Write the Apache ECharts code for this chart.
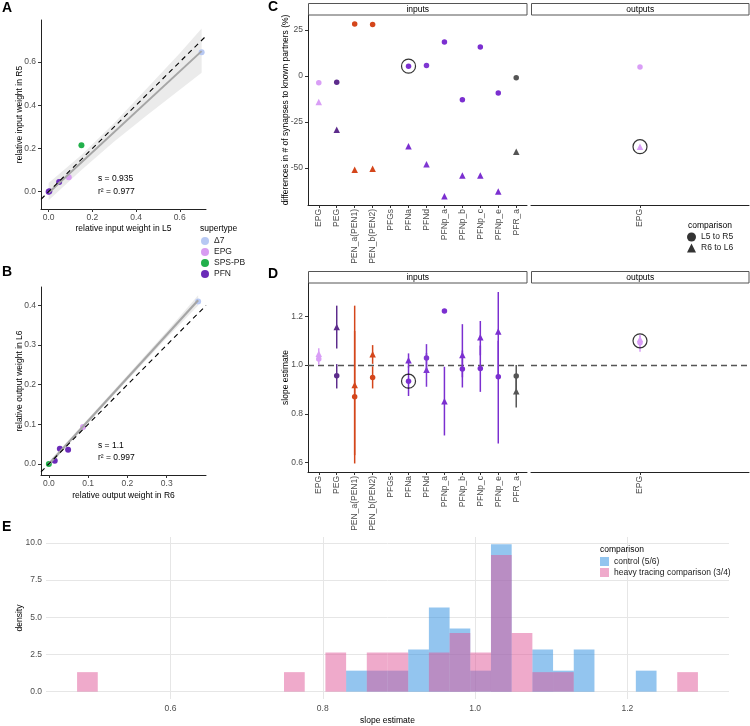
<!DOCTYPE html>
<html><head><meta charset="utf-8">
<script src="https://cdn.jsdelivr.net/npm/echarts@6/dist/echarts.min.js"></script>
<style>html,body{margin:0;padding:0;background:#fff}#c{width:750px;height:726px}</style>
</head><body><div id="c"></div>
<script>
// ---------- Panel A data ----------
const aDelta7 = [[0.70, 0.645]];
const aEPG = [[0.092, 0.067]];
const aSPS = [[0.15, 0.215]];
const aPFN = [[0.048, 0.045], [0.003, 0.002], [0.0, 0.0]];
const aFit = [[0.0, -0.005], [0.70, 0.650]];
const aBandX = [0, 0.15, 0.3, 0.45, 0.6, 0.7];
const aBandLo = [-0.04, 0.100, 0.232, 0.354, 0.472, 0.55];
const aBandHi = [0.040, 0.170, 0.318, 0.478, 0.640, 0.755];
const aIdentity = [[-0.035, -0.035], [0.72, 0.72]];
const aTicks = [0, 0.2, 0.4, 0.6];

// ---------- Panel B data ----------
const bDelta7 = [[0.38, 0.41]];
const bEPG = [[0.087, 0.093]];
const bSPS = [[0.0, 0.0]];
const bPFN = [[0.028, 0.038], [0.049, 0.036], [0.015, 0.008]];
const bFit = [[0.0, 0.0], [0.38, 0.413]];
const bBandX = [0, 0.1, 0.2, 0.3, 0.38];
const bBandLo = [-0.006, 0.103, 0.211, 0.318, 0.400];
const bBandHi = [0.006, 0.114, 0.224, 0.334, 0.426];
const bIdentity = [[-0.02, -0.02], [0.40, 0.40]];
const bTicksX = [0, 0.1, 0.2, 0.3];
const bTicksY = [0, 0.1, 0.2, 0.3, 0.4];

// ---------- Panels C / D data ----------
const inputCats = ['EPG','PEG','PEN_a(PEN1)','PEN_b(PEN2)','PFGs','PFNa','PFNd','PFNp_a','PFNp_b','PFNp_c','PFNp_e','PFR_a'];
const outputCats = ['EPG'];
const cInL5R5 = [-3.6, -3.3, 28.3, 28.1, null, 5.4, 5.7, 18.5, -12.9, 15.8, -9.2, -0.9];
const cInR6L6 = [-14.1, -29.2, -50.9, -50.4, null, -38.2, -48.0, -65.4, -54.0, -54.0, -62.7, -41.1];
const cOutL5R5 = [4.9];
const cOutR6L6 = [-38.4];
const cTicks = [-50, -25, 0, 25];

const dInL5R5 = [1.025, 0.956, 0.870, 0.949, null, 0.934, 1.029, 1.222, 0.984, 0.986, 0.952, 0.955];
const dInL5R5Lo = [1.000, 0.904, 0.596, 0.904, null, 0.873, 0.975, null, 0.908, 0.890, 0.678, 0.900];
const dInL5R5Hi = [1.050, 1.004, 1.140, 0.995, null, 0.995, 1.086, null, 1.060, 1.080, 1.100, 1.000];
const dInR6L6 = [1.047, 1.156, 0.918, 1.044, null, 1.020, 0.981, 0.851, 1.041, 1.114, 1.138, 0.893];
const dInR6L6Lo = [1.020, 1.068, 0.630, 1.005, null, 0.990, 0.911, 0.711, 0.950, 1.040, 0.950, 0.826];
const dInR6L6Hi = [1.069, 1.244, 1.244, 1.082, null, 1.048, 1.050, 0.993, 1.168, 1.181, 1.300, 0.960];
const dOutL5R5 = [1.092], dOutL5R5Lo = [1.055], dOutL5R5Hi = [1.120];
const dOutR6L6 = [1.107], dOutR6L6Lo = [1.070], dOutR6L6Hi = [1.123];
const dTicks = [0.6, 0.8, 1.0, 1.2];

// ---------- Panel E data ----------
const histStart = 0.4773, histWidth = 0.02718;
const ctrlBins = [13,14,15,16,17,18,19,20,22,23,24,27];
const ctrlDensity = [1.41,1.41,1.41,2.83,5.66,4.24,1.41,9.90,2.83,1.41,2.83,1.41];
const heavyBins = [0,10,12,14,15,17,18,19,20,21,22,23,29];
const heavyDensity = [1.31,1.31,2.63,2.63,2.63,2.63,3.94,2.63,9.19,3.94,1.31,1.31,1.31];
const eTicksX = [0.6, 0.8, 1.0, 1.2];
const eTicksY = [0, 2.5, 5, 7.5, 10];

// ---------- styles ----------
const font = "'Liberation Sans', Arial, Helvetica, sans-serif";
const superColors = {'Δ7':'#b7c8f3', 'EPG':'#d89cf1', 'SPS-PB':'#22b04b', 'PFN':'#6b2bb8'};
const catColors = {EPG:'#d99ef6', PEG:'#5d2c8c', 'PEN_a(PEN1)':'#d4461b', 'PEN_b(PEN2)':'#d4461b', PFGs:'#7b2fd0',
  PFNa:'#7b2fd0', PFNd:'#7f37d2', PFNp_a:'#7b2fd0', PFNp_b:'#7b2fd0', PFNp_c:'#7b2fd0', PFNp_e:'#7b2fd0', PFR_a:'#555555'};
const ctrlColor = 'rgba(39,139,223,0.5)';
const heavyColor = 'rgba(223,85,151,0.5)';
const FS = 8.5;

function valAxis(grid, min, max, ticks, fmt, o) {
  o = o || {};
  return {
    type: 'value', gridIndex: grid, min, max,
    name: o.name || '', nameLocation: 'middle', nameGap: o.nameGap || 15, nameMoveOverlap: false,
    nameTextStyle: {color: '#000', fontSize: FS, fontFamily: font},
    axisLine: {show: o.line !== false, onZero: false, lineStyle: {color: '#222', width: 1}},
    axisTick: {show: o.tick !== false, length: 3, customValues: ticks, lineStyle: {color: '#333'}},
    axisLabel: {show: o.label !== false, customValues: ticks, formatter: fmt, color: '#4d4d4d', fontSize: FS,
      fontFamily: font, margin: o.margin || 5, rotate: o.rotate || 0, hideOverlap: false},
    splitLine: {show: !!o.split, lineStyle: {color: '#e6e6e6', width: 1}}
  };
}
const f1 = v => v.toFixed(1);
const f0 = v => String(Math.round(v));
const inIdx = inputCats.map((_, i) => i);
const catFmt = cats => v => cats[Math.round(v)];

function bandSeries(ax, bx, lo, hi) {
  return {type: 'custom', xAxisIndex: ax, yAxisIndex: ax, clip: true, z: 1, silent: true,
    data: bx.map((x, i) => [x, lo[i], hi[i]]), encode: {x: 0, y: [1, 2]},
    renderItem: (p, api) => {
      if (p.dataIndex !== 0) return null;
      const up = bx.map((x, i) => api.coord([x, hi[i]]));
      const dn = bx.map((x, i) => api.coord([x, lo[i]])).reverse();
      return {type: 'polygon', shape: {points: up.concat(dn)}, style: {fill: 'rgba(153,153,153,0.2)'}};
    }};
}
function lineSeries(ax, data, color, width, dashed, z) {
  return {type: 'line', xAxisIndex: ax, yAxisIndex: ax, data, symbol: 'none', z, silent: true, clip: true,
    lineStyle: {color, width, type: dashed ? [5, 4] : 'solid'}};
}
function superSeries(ax, name, data) {
  return {type: 'scatter', name, xAxisIndex: ax, yAxisIndex: ax, data, symbol: 'circle', symbolSize: 6, z: 2,
    itemStyle: {color: superColors[name], opacity: 1}};
}
function catPoints(ax, cats, vals, symbol, size, extra) {
  const data = cats.map((c, i) => vals[i] == null ? null : {value: [i, vals[i]], itemStyle: {color: catColors[c]}}).filter(Boolean);
  return Object.assign({type: 'scatter', xAxisIndex: ax, yAxisIndex: ax, data, symbol, symbolSize: size, z: 4,
    itemStyle: {opacity: 1}}, extra || {});
}
function errSeries(ax, cats, lo, hi) {
  const data = cats.map((c, i) => [i, lo[i], hi[i]]).filter(d => d[1] != null);
  return {type: 'custom', xAxisIndex: ax, yAxisIndex: ax, data, encode: {x: 0, y: [1, 2]}, z: 3, silent: true,
    renderItem: (p, api) => {
      const i = api.value(0);
      const a = api.coord([i, api.value(1)]), b = api.coord([i, api.value(2)]);
      return {type: 'line', shape: {x1: a[0], y1: a[1], x2: b[0], y2: b[1]},
        style: {stroke: catColors[cats[i]], lineWidth: 1.5}};
    }};
}
function highlight(ax, x, y) {
  return {type: 'scatter', xAxisIndex: ax, yAxisIndex: ax, data: [[x, y]], symbol: 'circle', symbolSize: 14, z: 6,
    silent: true, itemStyle: {color: 'rgba(0,0,0,0)', borderColor: '#000', borderWidth: 1.2}};
}
function histSeries(name, bins, dens, color) {
  return {type: 'custom', name, xAxisIndex: 6, yAxisIndex: 6, itemStyle: {color},
    data: bins.map((b, i) => [histStart + b * histWidth, histStart + (b + 1) * histWidth, dens[i]]),
    encode: {x: [0, 1], y: 2},
    renderItem: (p, api) => {
      const p0 = api.coord([api.value(0), 0]), p1 = api.coord([api.value(1), api.value(2)]);
      return {type: 'rect', shape: {x: p0[0], y: p1[1], width: p1[0] - p0[0], height: p0[1] - p1[1]}, style: {fill: color}};
    }};
}

const grids = [
  {left: 41, top: 20, width: 165, height: 189},   // A
  {left: 41, top: 287, width: 165, height: 188},  // B
  {left: 308, top: 15, width: 219, height: 190},  // C inputs
  {left: 531, top: 15, width: 218, height: 190},  // C outputs
  {left: 308, top: 283, width: 219, height: 189}, // D inputs
  {left: 531, top: 283, width: 218, height: 189}, // D outputs
  {left: 46, top: 537, width: 683, height: 164}   // E
];

const xAxes = [
  valAxis(0, -0.035, 0.72, aTicks, f1, {name: 'relative input weight in L5', nameGap: 15, margin: 4}),
  valAxis(1, -0.02, 0.40, bTicksX, f1, {name: 'relative output weight in R6', nameGap: 16, margin: 4}),
  valAxis(2, -0.6, 11.6, inIdx, catFmt(inputCats), {rotate: 90, margin: 4}),
  valAxis(3, -0.6, 0.6, [0], catFmt(outputCats), {rotate: 90, margin: 4}),
  valAxis(4, -0.6, 11.6, inIdx, catFmt(inputCats), {rotate: 90, margin: 4}),
  valAxis(5, -0.6, 0.6, [0], catFmt(outputCats), {rotate: 90, margin: 4}),
  valAxis(6, 0.4365, 1.3335, eTicksX, f1, {name: 'slope estimate', nameGap: 17, line: false, tick: false, split: true, margin: 5})
];
const yAxes = [
  valAxis(0, -0.08, 0.794, aTicks, f1, {name: 'relative input weight in R5', nameGap: 17}),
  valAxis(1, -0.028, 0.4466, bTicksY, f1, {name: 'relative output weight in L6', nameGap: 17}),
  valAxis(2, -70.1, 33.2, cTicks, f0, {name: 'differences in # of synapses to known partners (%)', nameGap: 18}),
  valAxis(3, -70.1, 33.2, cTicks, f0, {line: false, tick: false, label: false}),
  valAxis(4, 0.561, 1.337, dTicks, f1, {name: 'slope estimate', nameGap: 18}),
  valAxis(5, 0.561, 1.337, dTicks, f1, {line: false, tick: false, label: false}),
  valAxis(6, -0.495, 10.395, eTicksY, f1, {name: 'density', nameGap: 22, line: false, tick: false, split: true, margin: 4})
];

const dashLine = {symbol: 'none', silent: true, z: 1, label: {show: false},
  lineStyle: {color: '#555', width: 1.4, type: [6, 4]}, data: [{yAxis: 1}]};

const series = [
  // A
  bandSeries(0, aBandX, aBandLo, aBandHi),
  superSeries(0, 'Δ7', aDelta7), superSeries(0, 'EPG', aEPG), superSeries(0, 'SPS-PB', aSPS), superSeries(0, 'PFN', aPFN),
  lineSeries(0, aFit, '#a6a6a6', 2, false, 3),
  lineSeries(0, aIdentity, '#000', 1.1, true, 4),
  // B
  bandSeries(1, bBandX, bBandLo, bBandHi),
  superSeries(1, 'Δ7', bDelta7), superSeries(1, 'EPG', bEPG), superSeries(1, 'SPS-PB', bSPS), superSeries(1, 'PFN', bPFN),
  lineSeries(1, bFit, '#a6a6a6', 2.2, false, 3),
  lineSeries(1, bIdentity, '#000', 1.1, true, 4),
  // legend dummies for comparison
  {type: 'scatter', name: 'L5 to R5', xAxisIndex: 3, yAxisIndex: 3, data: [], symbol: 'circle', itemStyle: {color: '#000'}},
  {type: 'scatter', name: 'R6 to L6', xAxisIndex: 3, yAxisIndex: 3, data: [], symbol: 'triangle', itemStyle: {color: '#000'}},
  // C
  catPoints(2, inputCats, cInL5R5, 'circle', 5.5),
  catPoints(2, inputCats, cInR6L6, 'triangle', 6.5),
  catPoints(3, outputCats, cOutL5R5, 'circle', 5.5),
  catPoints(3, outputCats, cOutR6L6, 'triangle', 6.5),
  highlight(2, 5, cInL5R5[5]),
  highlight(3, 0, cOutR6L6[0]),
  // D
  errSeries(4, inputCats, dInL5R5Lo, dInL5R5Hi),
  errSeries(4, inputCats, dInR6L6Lo, dInR6L6Hi),
  errSeries(5, outputCats, dOutL5R5Lo, dOutL5R5Hi),
  errSeries(5, outputCats, dOutR6L6Lo, dOutR6L6Hi),
  catPoints(4, inputCats, dInL5R5, 'circle', 5.5, {markLine: dashLine}),
  catPoints(4, inputCats, dInR6L6, 'triangle', 6.5),
  catPoints(5, outputCats, dOutL5R5, 'circle', 5.5, {markLine: dashLine}),
  catPoints(5, outputCats, dOutR6L6, 'triangle', 6.5),
  highlight(4, 5, dInL5R5[5]),
  highlight(5, 0, (dOutL5R5[0] + dOutR6L6[0]) / 2),
  // E
  histSeries('control (5/6)', ctrlBins, ctrlDensity, ctrlColor),
  histSeries('heavy tracing comparison (3/4)', heavyBins, heavyDensity, heavyColor)
];

const legText = {fontSize: FS, fontFamily: font, color: '#1a1a1a', lineHeight: 11};
const legends = [
  {data: ['Δ7', 'EPG', 'SPS-PB', 'PFN'], left: 201, top: 235.5, orient: 'vertical', icon: 'circle',
    itemWidth: 8, itemHeight: 8, itemGap: 0, selectedMode: false, textStyle: legText, padding: 0},
  {data: ['L5 to R5', 'R6 to L6'], left: 687, top: 231.5, orient: 'vertical',
    itemWidth: 9, itemHeight: 9, itemGap: 0, selectedMode: false, textStyle: legText, padding: 0},
  {data: ['control (5/6)', 'heavy tracing comparison (3/4)'], left: 600, top: 556, orient: 'vertical', icon: 'rect',
    itemWidth: 9, itemHeight: 9, itemGap: 0, selectedMode: false, textStyle: legText, padding: 0}
];

function T(x, y, text, o) {
  return {type: 'text', x, y, z: 100, silent: true,
    style: Object.assign({text, fill: '#000', font: FS + 'px ' + font, align: 'left', verticalAlign: 'middle',
      textAlign: 'left', textVerticalAlign: 'middle'}, o || {})};
}
function strip(x, y, w, h, label) {
  return [
    {type: 'rect', z: 90, silent: true, shape: {x, y, width: w, height: h}, style: {fill: '#fff', stroke: '#555', lineWidth: 1}},
    T(x + w / 2, y + h / 2 + 0.5, label, {align: 'center', textAlign: 'center'})
  ];
}
const bold = 'bold 14px ' + font;
const graphic = [
  T(2, 8.5, 'A', {font: bold}), T(2, 272, 'B', {font: bold}), T(268, 7.5, 'C', {font: bold}),
  T(268, 274, 'D', {font: bold}), T(2, 527, 'E', {font: bold}),
  T(98, 179, 's = 0.935'), T(98, 191.5, 'r² = 0.977'),
  T(98, 446, 's = 1.1'), T(98, 457.5, 'r² = 0.997'),
  T(200, 229, 'supertype'), T(688, 226, 'comparison'), T(600, 550, 'comparison'),
  ...strip(308.5, 3.5, 218.5, 11.5, 'inputs'), ...strip(531.5, 3.5, 217.5, 11.5, 'outputs'),
  ...strip(308.5, 271.5, 218.5, 11.5, 'inputs'), ...strip(531.5, 271.5, 217.5, 11.5, 'outputs')
];

const chart = echarts.init(document.getElementById('c'), null, {renderer: 'canvas'});
chart.setOption({
  animation: false, backgroundColor: '#fff',
  textStyle: {fontFamily: font},
  grid: grids, xAxis: xAxes, yAxis: yAxes, series, legend: legends, graphic
});
</script></body></html>
